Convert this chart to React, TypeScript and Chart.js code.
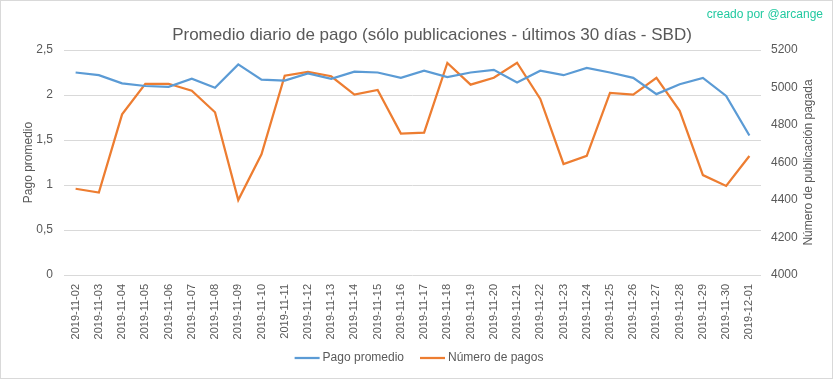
import React, { useEffect, useRef } from "react";
import { Chart, registerables } from "chart.js";

Chart.register(...registerables);

const fechas = [
  "2019-11-02", "2019-11-03", "2019-11-04", "2019-11-05", "2019-11-06", "2019-11-07",
  "2019-11-08", "2019-11-09", "2019-11-10", "2019-11-11", "2019-11-12", "2019-11-13",
  "2019-11-14", "2019-11-15", "2019-11-16", "2019-11-17", "2019-11-18", "2019-11-19",
  "2019-11-20", "2019-11-21", "2019-11-22", "2019-11-23", "2019-11-24", "2019-11-25",
  "2019-11-26", "2019-11-27", "2019-11-28", "2019-11-29", "2019-11-30", "2019-12-01",
];

const pagoPromedio = [
  2.25, 2.22, 2.13, 2.10, 2.09, 2.18, 2.08, 2.34, 2.17, 2.16, 2.24, 2.18, 2.26, 2.25, 2.19,
  2.27, 2.20, 2.25, 2.28, 2.14, 2.27, 2.22, 2.30, 2.25, 2.19, 2.01, 2.12, 2.19, 1.99, 1.55,
];

const numeroPagos = [
  4460, 4440, 4857, 5020, 5020, 4983, 4868, 4400, 4644, 5063, 5083, 5060, 4962, 4987, 4754,
  4759, 5131, 5015, 5052, 5132, 4939, 4592, 4635, 4971, 4962, 5051, 4876, 4533, 4475, 4635,
];

const tituloTexto = "Promedio diario de pago (sólo publicaciones - últimos 30 días - SBD)";
const marcaTexto = "creado por @arcange";
const tituloDerecho = "Número de publicación pagada";
const FONT = '"Liberation Sans", Arial, sans-serif';
const GRIS = "#595959";
const AZUL = "#5b9bd5";
const NARANJA = "#ed7d31";

const textPlugin = {
  id: "customTexts",
  afterDraw(chart: any) {
    const ctx = chart.ctx;
    const area = chart.chartArea;
    ctx.save();
    ctx.fillStyle = GRIS;
    ctx.font = `17px ${FONT}`;
    ctx.textAlign = "center";
    ctx.textBaseline = "middle";
    ctx.fillText(tituloTexto, 432, 35);

    ctx.fillStyle = "#22c9a0";
    ctx.font = `12px ${FONT}`;
    ctx.textAlign = "right";
    ctx.fillText(marcaTexto, 823, 15);

    // legend
    ctx.font = `12px ${FONT}`;
    ctx.textAlign = "left";
    const items = chart.data.datasets.map((d: any) => ({
      text: d.label as string,
      color: d.borderColor as string,
    }));
    const lineLen = 25;
    const gap = 3;
    const itemGap = 16;
    const widths = items.map((it: any) => lineLen + gap + ctx.measureText(it.text).width);
    const total = widths.reduce((a: number, b: number) => a + b, 0) + itemGap * (items.length - 1);
    let x = 419 - total / 2;
    const y = 358;
    items.forEach((it: any, i: number) => {
      ctx.strokeStyle = it.color;
      ctx.lineWidth = 2.25;
      ctx.beginPath();
      ctx.moveTo(x, y);
      ctx.lineTo(x + lineLen, y);
      ctx.stroke();
      ctx.fillStyle = GRIS;
      ctx.fillText(it.text, x + lineLen + gap, y);
      x += widths[i] + itemGap;
    });

    ctx.fillStyle = GRIS;
    ctx.font = `12px ${FONT}`;
    ctx.textAlign = "center";
    ctx.translate(809, (area.top + area.bottom) / 2);
    ctx.rotate(-Math.PI / 2);
    ctx.fillText(tituloDerecho, 0, 0);
    ctx.restore();
  },
};

export default function App() {
  const ref = useRef<HTMLCanvasElement>(null);
  useEffect(() => {
    document.body.style.margin = "0";
    const chart = new Chart(ref.current!, {
      type: "line",
      data: {
        labels: fechas,
        datasets: [
          {
            label: "Pago promedio",
            data: pagoPromedio,
            borderColor: AZUL,
            backgroundColor: AZUL,
            borderWidth: 2.25,
            pointRadius: 0,
            tension: 0,
            yAxisID: "y",
          },
          {
            label: "Número de pagos",
            data: numeroPagos,
            borderColor: NARANJA,
            backgroundColor: NARANJA,
            borderWidth: 2.25,
            pointRadius: 0,
            tension: 0,
            yAxisID: "y1",
          },
        ],
      },
      options: {
        responsive: false,
        animation: false,
        layout: { padding: { top: 50, left: 17, right: 35, bottom: 40 } },
        plugins: {
          legend: { display: false },
          tooltip: { enabled: false },
          title: { display: false },
        },
        scales: {
          x: {
            offset: true,
            grid: { display: false, drawTicks: false },
            border: { display: false },
            afterFit: (s: any) => {
              s.height = 64;
            },
            ticks: {
              minRotation: 90,
              maxRotation: 90,
              autoSkip: false,
              padding: 9,
              color: GRIS,
              font: { family: FONT, size: 11 },
            },
          },
          y: {
            position: "left",
            min: 0,
            max: 2.5,
            grid: { color: "#d9d9d9", drawTicks: false, lineWidth: 1 },
            border: { display: false },
            afterFit: (s: any) => {
              s.width = 47;
            },
            ticks: {
              stepSize: 0.5,
              padding: 11,
              color: GRIS,
              font: { family: FONT, size: 12 },
              callback: (v: any) => String(v).replace(".", ","),
            },
            title: {
              display: true,
              text: "Pago promedio",
              color: GRIS,
              font: { family: FONT, size: 12 },
              padding: { top: 4, bottom: 4 },
            },
          },
          y1: {
            position: "right",
            min: 4000,
            max: 5200,
            grid: { display: false, drawTicks: false },
            border: { display: false },
            afterFit: (s: any) => {
              s.width = 37;
            },
            ticks: {
              stepSize: 200,
              padding: 10,
              color: GRIS,
              font: { family: FONT, size: 12 },
              callback: (v: any) => String(v),
            },
          },
        },
      },
      plugins: [textPlugin],
    });
    return () => chart.destroy();
  }, []);

  return (
    <div style={{ position: "relative", width: 833, height: 379, background: "#fff" }}>
      <canvas ref={ref} width={833} height={379} style={{ display: "block" }} />
      <div
        style={{
          position: "absolute",
          inset: 0,
          border: "1px solid #d9d9d9",
          boxSizing: "border-box",
          pointerEvents: "none",
        }}
      />
    </div>
  );
}
